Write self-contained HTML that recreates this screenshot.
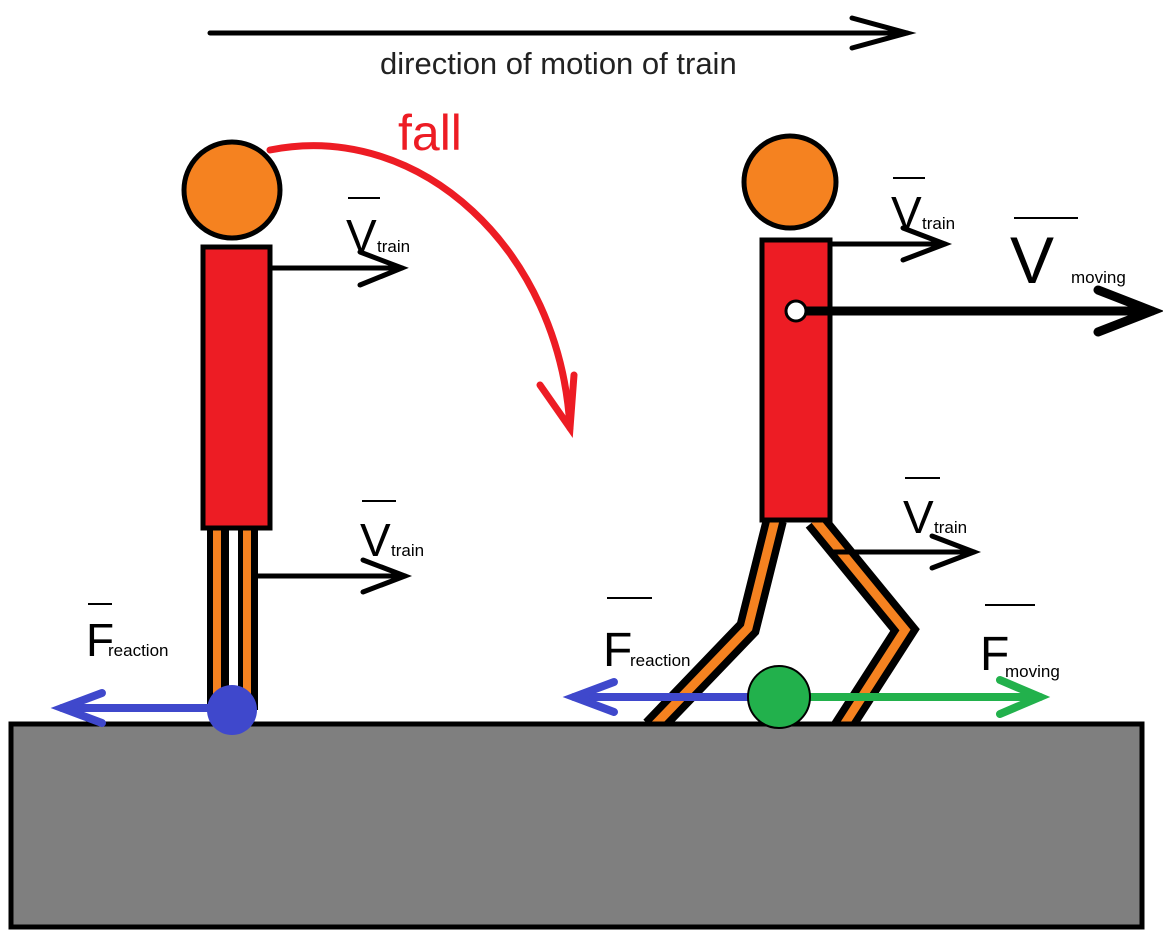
<!DOCTYPE html>
<html><head><meta charset="utf-8"><style>
html,body{margin:0;padding:0;background:#fff;}
svg{display:block;}
text{font-family:"Liberation Sans","DejaVu Sans",sans-serif;}
</style></head><body>
<svg width="1163" height="936" viewBox="0 0 1163 936" xmlns="http://www.w3.org/2000/svg">
<!-- right figure legs (drawn before ground so ground clips them) -->
<g fill="none" stroke-linejoin="miter">
<polyline points="775,520 748,628 652,728" stroke="#000" stroke-width="24"/>
<polyline points="815,520 905,630 842,728" stroke="#000" stroke-width="24"/>
<polyline points="775,520 748,628 652,728" stroke="#f58220" stroke-width="9"/>
<polyline points="815,520 905,630 842,728" stroke="#f58220" stroke-width="9"/>
</g>
<rect x="11" y="724" width="1131" height="203" fill="#7f7f7f" stroke="#000" stroke-width="5"/>
<!-- top arrow -->
<g stroke="#000" stroke-width="5" fill="none" stroke-linecap="round">
<line x1="210" y1="33" x2="907" y2="33"/>
<polyline points="852,18 907,33 852,48"/>
</g>
<text x="380" y="74" font-size="31" fill="#222">direction of motion of train</text>
<text x="398" y="150" font-size="50" fill="#ed1c24">fall</text>
<!-- fall arc -->
<g stroke="#ed1c24" stroke-width="7" fill="none" stroke-linecap="round">
<path d="M270,150 C420,120 560,250 570,428"/>
<polyline points="540,385 570,428 574,375"/>
</g>
<!-- left figure -->
<rect x="207" y="528" width="51" height="182" fill="#000"/>
<rect x="213" y="528" width="8" height="182" fill="#f58220"/>
<rect x="243" y="528" width="8" height="182" fill="#f58220"/>
<rect x="229" y="528" width="9" height="182" fill="#fff"/>
<rect x="203" y="247" width="67" height="281" fill="#ed1c24" stroke="#000" stroke-width="5"/>
<circle cx="232" cy="190" r="48" fill="#f58220" stroke="#000" stroke-width="5"/>
<g stroke="#000" stroke-width="5" fill="none" stroke-linecap="round">
<line x1="270" y1="268" x2="402" y2="268"/><polyline points="360,252 402,268 360,285"/>
<line x1="258" y1="576" x2="405" y2="576"/><polyline points="363,560 405,576 363,592"/>
</g>
<line x1="348" y1="198" x2="380" y2="198" stroke="#000" stroke-width="2"/>
<text x="346" y="252" font-size="46" fill="#000">V</text><text x="377" y="252" font-size="17">train</text>
<line x1="362" y1="501" x2="396" y2="501" stroke="#000" stroke-width="2"/>
<text x="360" y="556" font-size="46" fill="#000">V</text><text x="391" y="556" font-size="17">train</text>
<line x1="88" y1="604" x2="112" y2="604" stroke="#000" stroke-width="2"/>
<text x="86" y="656" font-size="46">F</text><text x="108" y="656" font-size="17">reaction</text>
<g stroke="#3f48cc" stroke-width="8" fill="none" stroke-linecap="round">
<line x1="232" y1="708" x2="62" y2="708"/><polyline points="102,693 62,708 102,723"/>
</g>
<circle cx="232" cy="710" r="25" fill="#3f48cc"/>
<rect x="762" y="240" width="68" height="280" fill="#ed1c24" stroke="#000" stroke-width="5"/>
<circle cx="790" cy="182" r="46" fill="#f58220" stroke="#000" stroke-width="5"/>
<g stroke="#000" stroke-width="5" fill="none" stroke-linecap="round">
<line x1="830" y1="244" x2="945" y2="244"/><polyline points="903,228 945,244 903,260"/>
<line x1="830" y1="552" x2="974" y2="552"/><polyline points="932,536 974,552 932,568"/>
</g>
<g stroke="#000" stroke-width="9" fill="none" stroke-linecap="round">
<line x1="806" y1="311" x2="1152" y2="311"/><polyline points="1098,290 1152,311 1098,332"/>
</g>
<circle cx="796" cy="311" r="10" fill="#fff" stroke="#000" stroke-width="3"/>
<line x1="893" y1="178" x2="925" y2="178" stroke="#000" stroke-width="2"/>
<text x="891" y="229" font-size="46">V</text><text x="922" y="229" font-size="17">train</text>
<line x1="905" y1="478" x2="940" y2="478" stroke="#000" stroke-width="2"/>
<text x="903" y="533" font-size="46">V</text><text x="934" y="533" font-size="17">train</text>
<line x1="1014" y1="218" x2="1078" y2="218" stroke="#000" stroke-width="2"/>
<text x="1010" y="283" font-size="66">V</text><text x="1071" y="283" font-size="17">moving</text>
<line x1="607" y1="598" x2="652" y2="598" stroke="#000" stroke-width="2"/>
<text x="603" y="666" font-size="48">F</text><text x="630" y="666" font-size="17">reaction</text>
<line x1="985" y1="605" x2="1035" y2="605" stroke="#000" stroke-width="2"/>
<text x="980" y="670" font-size="48">F</text><text x="1005" y="677" font-size="17">moving</text>
<g stroke="#3f48cc" stroke-width="8" fill="none" stroke-linecap="round">
<line x1="780" y1="697" x2="574" y2="697"/><polyline points="614,682 574,697 614,712"/>
</g>
<g stroke="#22b14c" stroke-width="8" fill="none" stroke-linecap="round">
<line x1="780" y1="697" x2="1040" y2="697"/><polyline points="1000,680 1040,697 1000,714"/>
</g>
<circle cx="779" cy="697" r="31" fill="#22b14c" stroke="#000" stroke-width="2"/>
</svg>
</body></html>
